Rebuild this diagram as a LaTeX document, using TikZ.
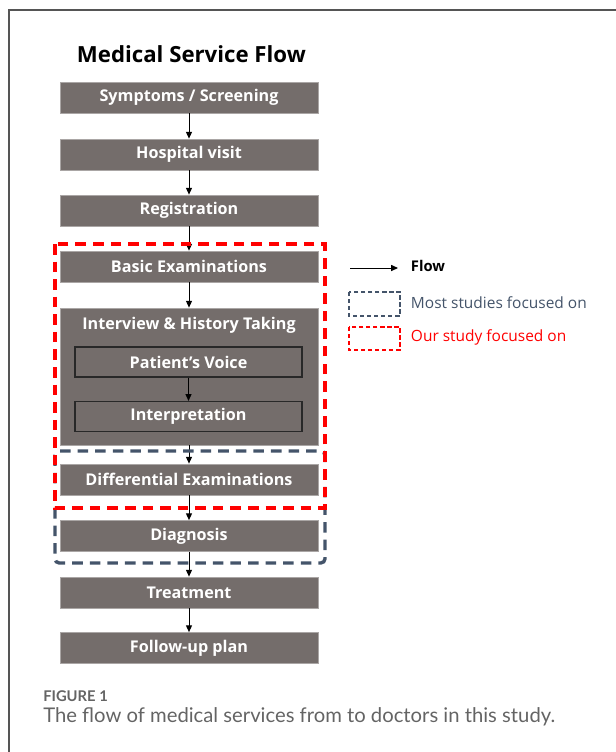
\documentclass[tikz,border=0pt]{standalone}
\usepackage{fontspec}
\setmainfont{Open Sans}
\newfontfamily\capfont{Lato}
\definecolor{flowgrey}{RGB}{116,109,107}
\definecolor{boxedge}{RGB}{170,166,165}
\definecolor{innerdark}{RGB}{40,40,40}
\definecolor{mostblue}{RGB}{68,84,106}
\definecolor{ourred}{RGB}{255,0,0}
\definecolor{framegrey}{RGB}{85,85,85}
\definecolor{capgrey}{RGB}{100,100,100}
\usetikzlibrary{arrows.meta,positioning}

\begin{document}
\begin{tikzpicture}[x=0.025cm, y=-0.025cm,
  stepbox/.style={draw=boxedge, line width=0.5pt, fill=flowgrey, minimum width=6.45cm,
    minimum height=0.775cm, inner sep=0pt, text=white, font=\fontsize{11.5}{12}\selectfont\bfseries},
  innerbox/.style={stepbox, draw=innerdark, line width=0.8pt, minimum width=5.675cm, minimum height=0.75cm},
  flowarrow/.style={-{Triangle[length=1.7mm, width=1.5mm]}, line width=0.7pt, black},
  mostfocus/.style={draw=mostblue, line width=2.4pt, dash pattern=on 7.5pt off 5pt},
  ourfocus/.style={draw=ourred, line width=2.4pt, dash pattern=on 7.5pt off 5pt},
  legendtext/.style={anchor=west, font=\fontsize{11}{12}\selectfont}]

\useasboundingbox (0,0) rectangle (616,752);

% card frame
\draw[framegrey, line width=1pt] (9,752) -- (9,10) -- (616,10);

\node[anchor=base west, font=\fontsize{15.8}{18}\selectfont\bfseries] (title) at (72,62) {Medical Service Flow};

% main flow
\node[stepbox] (symp) at (189,97.5) {Symptoms / Screening};
\node[stepbox] (visit) at (189,154.5) {Hospital visit};
\node[stepbox] (regist) at (189,210.5) {Registration};
\node[stepbox] (basic) at (189,266.5) {Basic Examinations};
\node[stepbox, minimum height=3.425cm] (interview) at (189,376.5) {};
\node[text=white, font=\fontsize{11.5}{12}\selectfont\bfseries] (ivtitle) at (189,325) {Interview \& History Taking};
\node[innerbox] (voice) at (188.5,362) {Patient’s Voice};
\node[innerbox] (interp) at (188.5,416.5) {Interpretation};
\node[stepbox] (diffexam) at (189,479.5) {Differential Examinations};
\node[stepbox] (diagn) at (189,536) {Diagnosis};
\node[stepbox] (treat) at (189,592.5) {Treatment};
\node[stepbox] (follow) at (189,648) {Follow-up plan};

\draw[flowarrow] (symp) -- (visit);
\draw[flowarrow] (visit) -- (regist);
\draw[flowarrow] (regist) -- (basic);
\draw[flowarrow] (basic) -- (interview);
\draw[flowarrow] (voice) -- (interp);
\draw[flowarrow] (interview) -- (diffexam);
\draw[flowarrow] (diffexam) -- (diagn);
\draw[flowarrow] (diagn) -- (treat);
\draw[flowarrow] (treat) -- (follow);

% focus regions
\draw[mostfocus, rounded corners=3pt] (55,451) rectangle (325,563);
\draw[ourfocus] (55,244) rectangle (325,508);

% legend
\coordinate (flowa) at (350,268);
\coordinate (flowb) at (398,268);
\draw[flowarrow] (flowa) -- (flowb);
\node[legendtext, font=\fontsize{10.5}{12}\selectfont\bfseries] (flowlbl) at (406,266) {Flow};
\draw[draw=mostblue, line width=0.9pt, dash pattern=on 3pt off 2pt] (349,292) rectangle (400,316);
\node[legendtext, text=mostblue] (mostlbl) at (406,303) {Most studies focused on};
\draw[draw=ourred, line width=0.9pt, dash pattern=on 3pt off 2pt] (349,327) rectangle (400,350);
\node[legendtext, text=ourred] (ourlbl) at (406,337) {Our study focused on};

% caption
\node[anchor=base west, inner sep=0pt, text=capgrey, font=\capfont\fontsize{10.5}{12}\selectfont\bfseries] (fig) at (43,701) {FIGURE 1};
\node[anchor=base west, inner sep=0pt, text=capgrey, font=\capfont\fontsize{14.4}{18}\selectfont] (caption) at (43,722) {The flow of medical services from to doctors in this study.};

\end{tikzpicture}
\end{document}
